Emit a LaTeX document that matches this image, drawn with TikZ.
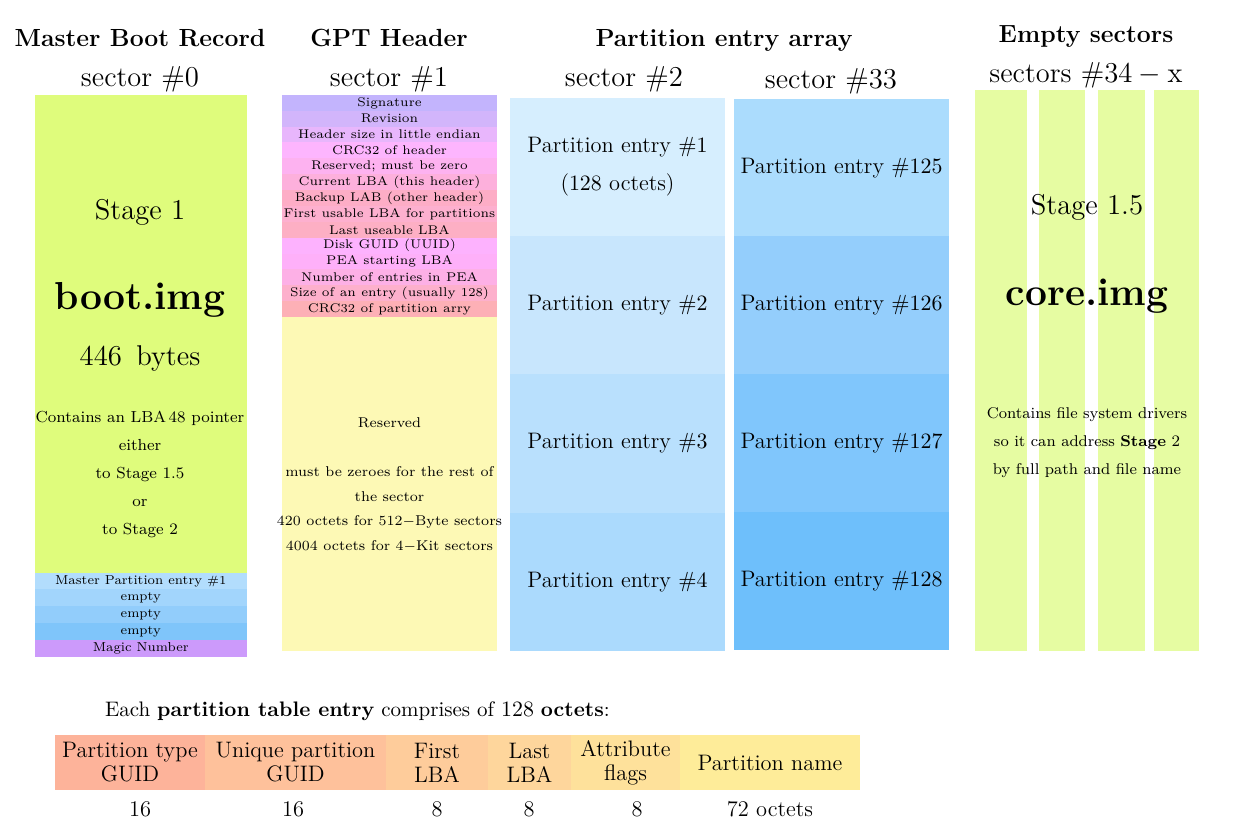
\documentclass[tikz,border=0pt]{standalone}
\usepackage{amsmath}
\usepackage{amssymb}
\usepackage{tikz}

\definecolor{mbrgreen}{HTML}{DFFC7C}
\definecolor{emptygreen}{HTML}{E6FCA2}
\definecolor{resyellow}{HTML}{FDF9B5}
\definecolor{magic}{HTML}{CC9AFB}
\definecolor{mbrA}{HTML}{B2DDFD}
\definecolor{mbrB}{HTML}{A2D5FC}
\definecolor{mbrC}{HTML}{92CDFB}
\definecolor{mbrD}{HTML}{7FC5FA}
\definecolor{peA}{HTML}{D6EEFE}
\definecolor{peB}{HTML}{C8E6FD}
\definecolor{peC}{HTML}{B9E0FD}
\definecolor{peD}{HTML}{ABDAFD}
\definecolor{peE}{HTML}{ABDCFD}
\definecolor{peF}{HTML}{94CEFC}
\definecolor{peG}{HTML}{80C6FC}
\definecolor{peH}{HTML}{6EBFFB}
\definecolor{cellA}{HTML}{FDB39A}
\definecolor{cellB}{HTML}{FEC19B}
\definecolor{cellC}{HTML}{FECC9B}
\definecolor{cellD}{HTML}{FED69C}
\definecolor{cellE}{HTML}{FEE19B}
\definecolor{cellF}{HTML}{FEEC99}

\tikzset{every node/.style={inner sep=0pt, outer sep=0pt}, % Boxes touch each other
    heading/.style={font=\bfseries\fontsize{12.4}{14}\selectfont, anchor=base},
    sector/.style={font=\fontsize{14.2}{16}\selectfont, anchor=base},
    field/.style=
        { % One line of the GPT header
            minimum width=107.5pt,
            minimum height=8.05pt,
            font=\fontsize{6.3}{8}\selectfont
        },
    mbrrow/.style={minimum width=105.75pt, minimum height=8.5pt, font=\fontsize{6.5}{8}\selectfont},
    entry/.style={minimum width=107.5pt, align=center, font=\fontsize{11.2}{19}\selectfont},
    strip/.style={fill=emptygreen, minimum height=280.5pt},
    stage/.style={font=\fontsize{14.3}{16}\selectfont},
    image/.style={font=\bfseries\fontsize{19.5}{22}\selectfont},
    note/.style={align=center, font=\fontsize{8}{14}\selectfont},
    cell/.style={minimum height=27.5pt, align=center, font=\fontsize{11.2}{12}\selectfont}
}

\begin{document}
\begin{tikzpicture}[x=0.5pt,y=-0.5pt] % one unit is one pixel of the layout
\useasboundingbox (0,0) rectangle (1243,834);

% titles
\node [heading](t1) at (140,47) {Master Boot Record};
\node [sector] (s1) at (140,87) {sector $\#0$};
\node [heading](t2) at (389,47) {GPT Header};
\node [sector] (s2) at (389,87) {sector $\#1$};
\node [heading](t3) at (724,47) {Partition entry array};
\node [sector] (s3) at (624,87) {sector $\#2$};
\node [sector] (s4) at (831,89) {sector $\#33$};
\node [heading](t4) at (1086,43) {Empty sectors};
\node [sector] (s5) at (1086,83) {sectors $\#34-\mathrm{x}$};

% master boot record
\node [fill=mbrgreen,minimum width=105.75pt,minimum height=238.9pt] (mbr) at (140.75,333.75) {};
\node [stage] (m1) at (140,212) {Stage $1$};
\node [image] (m2) at (140,300) {boot.img};
\node [stage] (m3) at (140,358) {$446$\enspace bytes};
\node [note]  (m4) at (140,474) {Contains an LBA\,48 pointer\\either\\to Stage $1.5$\\or\\to Stage $2$};
\node [mbrrow,fill=mbrA]  (p1) at (140.75,581.0) {Master Partition entry $\#1$};
\node [mbrrow,fill=mbrB]  (p2) at (140.75,597.8) {empty};
\node [mbrrow,fill=mbrC]  (p3) at (140.75,614.6) {empty};
\node [mbrrow,fill=mbrD]  (p4) at (140.75,631.4) {empty};
\node [mbrrow,fill=magic,minimum height=8.42pt] (p5) at (140.75,648.2) {Magic Number};

% gpt header
\node [field,fill={rgb,255:red,195;green,180;blue,253}] (g1) at (389.5,102.9) {Signature};
\node [field,fill={rgb,255:red,210;green,181;blue,251}] (g2) at (389.5,118.8) {Revision};
\node [field,fill={rgb,255:red,232;green,182;blue,252}] (g3) at (389.5,134.6) {Header size in little endian};
\node [field,fill={rgb,255:red,253;green,181;blue,254}] (g4) at (389.5,150.5) {CRC$32$ of header};
\node [field,fill={rgb,255:red,253;green,178;blue,240}] (g5) at (389.5,166.4) {Reserved; must be zero};
\node [field,fill={rgb,255:red,253;green,176;blue,220}] (g6) at (389.5,182.2) {Current LBA (this header)};
\node [field,fill={rgb,255:red,253;green,173;blue,198}] (g7) at (389.5,198.1) {Backup LAB (other header)};
\node [field,fill={rgb,255:red,253;green,176;blue,207}] (g8) at (389.5,214.0) {First usable LBA for partitions};
\node [field,fill={rgb,255:red,253;green,175;blue,196}] (g9) at (389.5,229.8) {Last useable LBA};
\node [field,fill={rgb,255:red,253;green,178;blue,254}] (g10) at (389.5,245.7) {Disk GUID (UUID)};
\node [field,fill={rgb,255:red,254;green,176;blue,249}] (g11) at (389.5,261.6) {PEA starting LBA};
\node [field,fill={rgb,255:red,253;green,176;blue,230}] (g12) at (389.5,277.4) {Number of entries in PEA};
\node [field,fill={rgb,255:red,253;green,176;blue,204}] (g13) at (389.5,293.3) {Size of an entry (usually $128$)};
\node [field,fill={rgb,255:red,253;green,176;blue,182}] (g14) at (389.5,309.1) {CRC$32$ of partition arry};
\node [fill=resyellow,minimum width=107.5pt,minimum height=167pt] (res) at (389.5,484) {};
\node [align=center,font=\fontsize{7.1}{12.25}\selectfont] (r1) at (389.5,485)
    {Reserved\\[12.25pt]must be zeroes for the rest of\\the sector\\$420$ octets for $512-$Byte sectors\\$4004$ octets for $4-$Kit sectors};

% partition entry array
\node [entry,fill=peA,minimum height=69.4pt] (e1) at (617.5,167.1) {Partition entry $\#1$\\($128$ octets)};
\node [entry,fill=peB,minimum height=69.4pt] (e2) at (617.5,305.4) {Partition entry $\#2$};
\node [entry,fill=peC,minimum height=69.4pt] (e3) at (617.5,443.6) {Partition entry $\#3$};
\node [entry,fill=peD,minimum height=69.125pt] (e4) at (617.5,581.9) {Partition entry $\#4$};
\node [entry,fill=peE,minimum height=69.2pt] (e125) at (841.5,167.9) {Partition entry $\#125$};
\node [entry,fill=peF,minimum height=69.2pt] (e126) at (841.5,305.6) {Partition entry $\#126$};
\node [entry,fill=peG,minimum height=69.2pt] (e127) at (841.5,443.4) {Partition entry $\#127$};
\node [entry,fill=peH,minimum height=68.875pt] (e128) at (841.5,581.1) {Partition entry $\#128$};

% empty sectors
\node [strip,minimum width=25.9pt] (x1) at (1000.9,370.5) {};
\node [strip,minimum width=23.3pt] (x2) at (1062.0,370.5) {};
\node [strip,minimum width=23.6pt] (x3) at (1121.3,370.5) {};
\node [strip,minimum width=22.5pt] (x4) at (1176.5,370.5) {};
\node [stage] (c1) at (1087,207) {Stage $1.5$};
\node [image] (c2) at (1087,296) {core.img};
\node [note,font=\fontsize{7.8}{14}\selectfont] (c3) at (1087,443) {Contains file system drivers\\so it can address \textbf{Stage} $2$\\by full path and file name};

% one partition table entry
\node [anchor=west,font=\fontsize{10.5}{12}\selectfont] (each) at (105,711)
    {Each \textbf{partition table entry} comprises of $128$ \textbf{octets}:};
\node [cell,fill=cellA,minimum width=75pt]   (f1) at (130,762.5)   {Partition type\\GUID};
\node [cell,fill=cellB,minimum width=90.5pt] (f2) at (295.5,762.5) {Unique partition\\GUID};
\node [cell,fill=cellC,minimum width=51pt]   (f3) at (437,762.5)   {First\\LBA};
\node [cell,fill=cellD,minimum width=41.5pt] (f4) at (529.5,762.5) {Last\\LBA};
\node [cell,fill=cellE,minimum width=54.5pt] (f5) at (625.5,762.5) {Attribute\\flags};
\node [cell,fill=cellF,minimum width=90pt]   (f6) at (770,762.5)   {Partition name};
\node [font=\fontsize{11.2}{12}\selectfont] (n1) at (140,809) {16};
\node [font=\fontsize{11.2}{12}\selectfont] (n2) at (293,809) {16};
\node [font=\fontsize{11.2}{12}\selectfont] (n3) at (437,809) {8};
\node [font=\fontsize{11.2}{12}\selectfont] (n4) at (529,809) {8};
\node [font=\fontsize{11.2}{12}\selectfont] (n5) at (637,809) {8};
\node [font=\fontsize{11.2}{12}\selectfont] (n6) at (770,809) {72 octets};
\end{tikzpicture}
\end{document}
